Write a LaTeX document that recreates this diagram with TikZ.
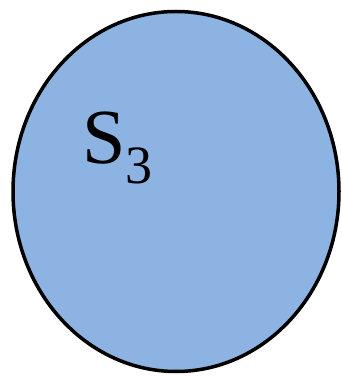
\documentclass[tikz,border=0pt]{standalone}
\usepackage{fontspec}
\setmainfont{Liberation Serif}
\definecolor{setblue}{HTML}{8DB3E2}
\tikzset{setshape/.style={draw=black, line width=3.5pt, fill=setblue},
  setlabel/.style={inner sep=0pt, font=\fontsize{78}{90}\selectfont}}
\begin{document}
\begin{tikzpicture}[x=1pt,y=1pt]
\useasboundingbox (0,0) rectangle (341,377);
\path[setshape] (176,185.5) ellipse [x radius=163, y radius=180];
\node[setlabel, anchor=base west] (s3) at (82,213) {S\raisebox{-20pt}{\fontsize{54}{60}\selectfont 3}};
\end{tikzpicture}
\end{document}
